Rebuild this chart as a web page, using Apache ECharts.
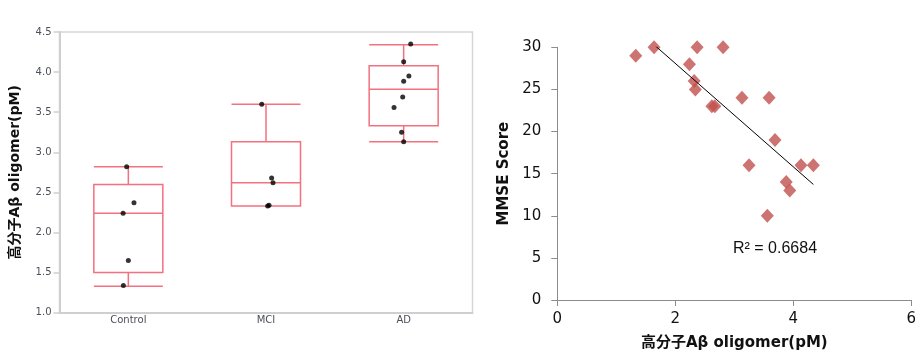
<!DOCTYPE html>
<html>
<head>
<meta charset="utf-8">
<script src="https://cdn.jsdelivr.net/npm/echarts@6/dist/echarts.min.js"></script>
<style>
html,body{margin:0;padding:0;background:#fff;}
#chart{width:921px;height:361px;}
</style>
</head>
<body>
<div id="chart"></div>
<script>
// ---- Data ----
const categories = ['Control', 'MCI', 'AD'];
const yTicks = [1.0, 1.5, 2.0, 2.5, 3.0, 3.5, 4.0, 4.5];
// box stats: [min, Q1, median, Q3, max]
const controlBox = [1.33, 1.50, 2.24, 2.60, 2.82];
const mciBox = [2.33, 2.33, 2.62, 3.13, 3.60];
const adBox = [3.13, 3.33, 3.785, 4.08, 4.34];
// individual values per group, with horizontal jitter (category units)
const controlValues = [2.82, 2.37, 2.24, 1.65, 1.34];
const controlJitter = [-0.012, 0.041, -0.038, 0.0, -0.036];
const mciValues = [3.60, 2.68, 2.62, 2.34, 2.33];
const mciJitter = [-0.031, 0.041, 0.051, 0.022, 0.012];
const adValues = [4.35, 4.13, 3.95, 3.885, 3.69, 3.56, 3.25, 3.13];
const adJitter = [0.051, 0.0, 0.038, 0.0, -0.007, -0.07, -0.015, 0.0];
// scatter: oligomer (pM) vs MMSE score
const oligomerX = [1.33, 1.64, 2.24, 2.32, 2.34, 2.37, 2.62, 2.67, 2.81, 3.13, 3.25, 3.56, 3.59, 3.69, 3.88, 3.94, 4.13, 4.34];
const mmseY =     [29,   30,   28,   26,   25,   30,   23,   23,   30,   24,   16,   10,   24,   19,   14,   13,   16,   16];
const r2Text = 'R² = 0.6684';

// ---- derived ----
const groups = [[controlValues, controlJitter], [mciValues, mciJitter], [adValues, adJitter]];
const stripPoints = [];
groups.forEach((g, i) => g[0].forEach((v, j) => stripPoints.push([i + 0.5 + g[1][j], v])));

// linear regression trendline
const n = oligomerX.length;
const mx = oligomerX.reduce((a, b) => a + b, 0) / n;
const my = mmseY.reduce((a, b) => a + b, 0) / n;
let sxy = 0, sxx = 0;
for (let i = 0; i < n; i++) { sxy += (oligomerX[i] - mx) * (mmseY[i] - my); sxx += (oligomerX[i] - mx) ** 2; }
const slope = sxy / sxx, intercept = my - slope * mx;
const xMin = Math.min(...oligomerX), xMax = Math.max(...oligomerX);
const trend = [[xMin, intercept + slope * xMin], [xMax, intercept + slope * xMax]];

const boxColor = '#f3707f';
const font = 'DejaVu Sans, Verdana, Noto Sans CJK JP, sans-serif';

const chart = echarts.init(document.getElementById('chart'), null, {renderer: 'canvas'});
chart.setOption({
  animation: false,
  backgroundColor: '#fff',
  grid: [
    {left: 59.5, top: 32, width: 413, height: 280.7, show: true, borderColor: '#d6d6d6', borderWidth: 1.5, containLabel: false},
    {left: 557.3, top: 47.3, width: 354, height: 252.7, containLabel: false}
  ],
  xAxis: [
    {gridIndex: 0, type: 'category', data: categories, boundaryGap: true,
     axisLine: {lineStyle: {color: '#cfcfcf', width: 2}}, axisTick: {show: false},
     axisLabel: {color: '#4a4f5a', fontSize: 10, fontFamily: font, margin: 3}, splitLine: {show: false}},
    {gridIndex: 0, type: 'value', min: 0, max: 3, show: false},
    {gridIndex: 1, type: 'value', min: 0, max: 6, interval: 2,
     axisLine: {show: true, onZero: false, lineStyle: {color: '#8c8c8c', width: 1}},
     axisTick: {show: true, length: 6, lineStyle: {color: '#8c8c8c'}},
     axisLabel: {color: '#111', fontSize: 15, fontFamily: font, margin: 12},
     splitLine: {show: false},
     name: '高分子Aβ oligomer(pM)', nameLocation: 'middle', nameGap: 36,
     nameTextStyle: {color: '#111', fontSize: 15, fontWeight: 'bold', fontFamily: font}}
  ],
  yAxis: [
    {gridIndex: 0, type: 'value', min: 1.0, max: 4.5, interval: 0.5,
     axisLine: {show: true, lineStyle: {color: '#cfcfcf', width: 2}},
     axisTick: {show: true, length: 6, lineStyle: {color: '#cfcfcf', width: 1.5}},
     axisLabel: {color: '#4a4f5a', fontSize: 10, fontFamily: font, margin: 8,
                 formatter: v => yTicks.includes(v) ? v.toFixed(1) : ''},
     splitLine: {show: false},
     name: '高分子Aβ oligomer(pM)', nameLocation: 'middle', nameGap: 37, nameRotate: 90,
     nameTextStyle: {color: '#111', fontSize: 14, fontWeight: 'bold', fontFamily: font}},
    {gridIndex: 1, type: 'value', min: 0, max: 30, interval: 5,
     axisLine: {show: true, onZero: false, lineStyle: {color: '#8c8c8c', width: 1}},
     axisTick: {show: true, length: 6, lineStyle: {color: '#8c8c8c'}},
     axisLabel: {color: '#111', fontSize: 15, fontFamily: font, margin: 16},
     splitLine: {show: false},
     name: 'MMSE Score', nameLocation: 'middle', nameGap: 46, nameRotate: 90,
     nameTextStyle: {color: '#111', fontSize: 15, fontWeight: 'bold', fontFamily: font}}
  ],
  series: [
    {type: 'boxplot', xAxisIndex: 0, yAxisIndex: 0, data: [controlBox, mciBox, adBox],
     boxWidth: [69, 69],
     itemStyle: {color: 'transparent', borderColor: boxColor, borderWidth: 1.5}},
    {type: 'scatter', xAxisIndex: 1, yAxisIndex: 0, data: stripPoints, symbol: 'circle', symbolSize: 5,
     itemStyle: {color: '#000'}, z: 5},
    {type: 'line', xAxisIndex: 2, yAxisIndex: 1, data: trend, symbol: 'none',
     lineStyle: {color: '#000', width: 1}, z: 4},
    {type: 'scatter', xAxisIndex: 2, yAxisIndex: 1, data: oligomerX.map((x, i) => [x, mmseY[i]]),
     symbol: 'diamond', symbolSize: [13, 14], itemStyle: {color: '#c0504d'}, z: 3}
  ],
  graphic: [
    {type: 'text', left: 733, top: 241, style: {text: r2Text, fill: '#111', fontSize: 16, fontFamily: 'Liberation Sans, Arial, sans-serif'}}
  ]
});
</script>
</body>
</html>
